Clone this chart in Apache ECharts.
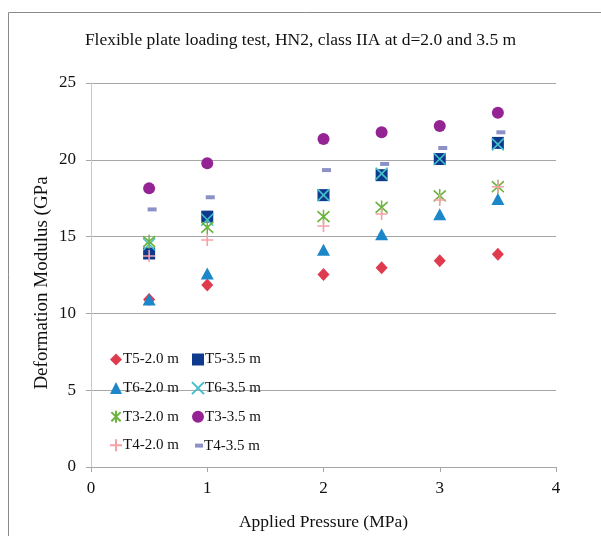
<!DOCTYPE html>
<html><head><meta charset="utf-8">
<script src="https://cdn.jsdelivr.net/npm/echarts@6/dist/echarts.min.js"></script>
<style>html,body{margin:0;padding:0;background:#fff}#c{width:601px;height:536px}</style>
</head><body><div id="c"></div>
<script>
const pressures = [0.5, 1, 2, 2.5, 3, 3.5];
const seriesNames = ['T5-2.0 m','T5-3.5 m','T6-2.0 m','T6-3.5 m','T3-2.0 m','T3-3.5 m','T4-2.0 m','T4-3.5 m'];
const T5_20 = [10.9, 11.85, 12.54, 12.98, 13.43, 13.85];
const T5_35 = [13.9, 16.3, 17.7, 19.0, 20.05, 21.1];
const T6_20 = [10.9, 12.6, 14.15, 15.15, 16.45, 17.45];
const T6_35 = [14.5, 16.1, 17.7, 19.1, 20.05, 21.0];
const T3_20 = [14.67, 15.6, 16.3, 16.9, 17.65, 18.25];
const T3_35 = [18.14, 19.77, 21.35, 21.8, 22.2, 23.07];
const T4_20 = [13.74, 14.78, 15.69, 16.47, 17.38, 18.25];
const T4_35 = [16.77, 17.56, 19.33, 19.73, 20.77, 21.79];
const yTicks = [0, 5, 10, 15, 20, 25];
const xTicks = [0, 1, 2, 3, 4];

const values = [T5_20, T5_35, T6_20, T6_35, T3_20, T3_35, T4_20, T4_35];
const FONT = '"Liberation Serif", "Times New Roman", serif';
const styles = [
  {symbol:'diamond', size:[12,13], color:'#E03A4E'},
  {symbol:'rect', size:12, color:'#0E3A8E'},
  {symbol:'triangle', size:[13,12], color:'#1B87C9'},
  {symbol:'path://M0,0L10,10M10,0L0,10', size:12, color:'#45C0C8', stroke:true},
  {symbol:'path://M0,0L10,10M10,0L0,10M5,-1.5L5,11.5', size:[12,14], color:'#6DB33F', stroke:true},
  {symbol:'circle', size:12, color:'#942494'},
  {symbol:'path://M5,0L5,10M0,5L10,5', size:12, color:'#F6A0A8', stroke:true},
  {symbol:'rect', size:[9,4], color:'#8D92C6', offset:[3,0]}
];

const series = seriesNames.map((n, i) => {
  const st = styles[i];
  const itemStyle = st.stroke
    ? {color:'rgba(0,0,0,0)', borderColor: st.color, borderWidth: 1.6, opacity:1}
    : {color: st.color, opacity:1};
  return {
    name: n, type: 'scatter',
    symbol: st.symbol, symbolSize: st.size,
    symbolOffset: st.offset || [0,0],
    itemStyle: itemStyle,
    emphasis: {disabled:true},
    data: pressures.map((p, k) => [p, values[i][k]])
  };
});

const legendText = {fontFamily: FONT, fontSize: 15, color:'#111', padding:[0,0,0,-4]};
const LTOP = 347, LGAP = 13.6, ROW = 28.7;

const chart = echarts.init(document.getElementById('c'), null, {renderer:'canvas'});
chart.setOption({
  animation: false,
  backgroundColor: '#fff',
  textStyle: {fontFamily: FONT},
  title: {
    text: 'Flexible plate loading test, HN2, class IIA at d=2.0 and 3.5 m',
    left: 'center', top: 26,
    textStyle: {fontFamily: FONT, fontSize: 17.5, fontWeight: 'normal', color: '#111'}
  },
  graphic: [
    {type:'rect', shape:{x:8.5, y:12.5, width:620, height:560}, style:{fill:'none', stroke:'#8a8a8a', lineWidth:1}, silent:true},
    {type:'text', x:42, y:283, rotation: Math.PI/2, silent:true,
     style:{text:'Deformation Modulus (GPa', font:'19px "Liberation Serif", serif', fill:'#111', align:'center', verticalAlign:'middle'}}
  ],
  grid: {left: 91, right: 45, top: 83, bottom: 69, containLabel: false},
  legend: [
    {data: [seriesNames[0], seriesNames[2], seriesNames[4], seriesNames[6]],
     orient:'vertical', left: 104, top: LTOP, itemGap: LGAP, itemWidth: 12, itemHeight: 12, textStyle: legendText},
    {data: [seriesNames[1], seriesNames[3], seriesNames[5]],
     orient:'vertical', left: 186, top: LTOP, itemGap: LGAP, itemWidth: 12, itemHeight: 12, textStyle: legendText},
    {data: [seriesNames[7]],
     orient:'vertical', left: 190, top: LTOP + 3*ROW, itemWidth: 8, itemHeight: 4, textStyle: legendText}
  ],
  xAxis: {
    type: 'value', min: xTicks[0], max: xTicks[xTicks.length-1], interval: 1,
    name: 'Applied Pressure (MPa)', nameLocation: 'middle', nameGap: 46,
    nameTextStyle: {fontFamily: FONT, fontSize: 17.5, color: '#111'},
    axisLine: {show: true, onZero: false, lineStyle: {color: '#a6a6a6'}},
    axisTick: {show: true, length: 5, lineStyle: {color: '#a6a6a6'}},
    axisLabel: {fontFamily: FONT, fontSize: 17, color: '#111', margin: 13},
    splitLine: {show: false}
  },
  yAxis: {
    type: 'value', min: yTicks[0], max: yTicks[yTicks.length-1], interval: 5,
    axisLine: {show: true, lineStyle: {color: '#c8c8c8'}},
    axisTick: {show: true, length: 5, lineStyle: {color: '#a6a6a6'}},
    axisLabel: {fontFamily: FONT, fontSize: 17, color: '#111', margin: 15},
    splitLine: {show: true, lineStyle: {color: '#a6a6a6', width: 1}}
  },
  series: series
});
</script>
</body></html>
